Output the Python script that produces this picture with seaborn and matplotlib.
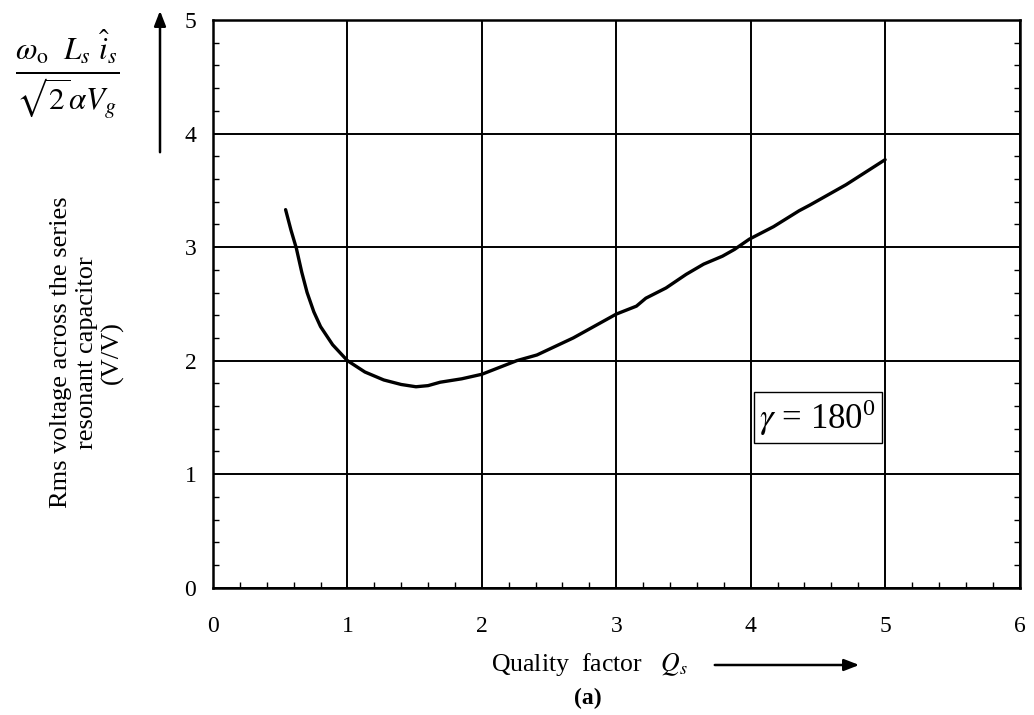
import matplotlib
matplotlib.use("Agg")
import matplotlib.pyplot as plt
import seaborn as sns
import pandas as pd
from matplotlib.ticker import MultipleLocator

# Data
quality_factor = [0.54, 0.58, 0.62, 0.66, 0.70, 0.75, 0.80, 0.89, 1.00, 1.13, 1.27, 1.40,
                  1.51, 1.60, 1.69, 1.85, 2.00, 2.26, 2.41, 2.68, 3.00, 3.15, 3.22, 3.37,
                  3.52, 3.65, 3.79, 3.88, 3.99, 4.17, 4.36, 4.44, 4.71, 5.00]
rms_voltage = [3.33, 3.15, 2.99, 2.78, 2.60, 2.43, 2.30, 2.14, 2.00, 1.90, 1.83, 1.79,
               1.77, 1.78, 1.81, 1.84, 1.88, 2.00, 2.05, 2.20, 2.41, 2.48, 2.55, 2.64,
               2.76, 2.85, 2.92, 2.98, 3.07, 3.18, 3.32, 3.37, 3.55, 3.77]
x_ticks = [0, 1, 2, 3, 4, 5, 6]
y_ticks = [0, 1, 2, 3, 4, 5]

df = pd.DataFrame({"Q": quality_factor, "V": rms_voltage})

sns.set_theme(style="white")
plt.rcParams["font.family"] = ["Liberation Serif", "DejaVu Serif"]
plt.rcParams["mathtext.fontset"] = "stix"

fig = plt.figure(figsize=(10.34, 7.15), dpi=100)
ax = fig.add_axes([0.206, 0.178, 0.780, 0.794])

sns.lineplot(data=df, x="Q", y="V", ax=ax, color="black", linewidth=2.4,
             estimator=None, sort=False)

ax.set_xlim(0, 6)
ax.set_ylim(0, 5)
ax.set_xticks(x_ticks)
ax.set_yticks(y_ticks)
ax.xaxis.set_minor_locator(MultipleLocator(0.2))
ax.yaxis.set_minor_locator(MultipleLocator(0.2))
ax.grid(True, which="major", color="black", linewidth=1.4)
ax.tick_params(axis="both", which="major", direction="in", length=0, labelsize=17,
               colors="black")
ax.tick_params(axis="x", which="major", pad=20)
ax.tick_params(axis="y", which="major", pad=12)
ax.tick_params(axis="both", which="minor", direction="in", length=4, width=1,
               color="black", bottom=True, left=True, right=True, top=False)
for s in ax.spines.values():
    s.set_visible(True)
    s.set_color("black")
    s.set_linewidth(1.8)

ax.set_xlabel(r"Quality  factor   $Q_s$", fontsize=18.5, color="black")
ax.xaxis.set_label_coords(0.467, -0.136)
ax.xaxis.label.set_va("center")

ax.set_ylabel("Rms voltage across the series\nresonant capacitor\n(V/V)",
              fontsize=19, color="black", multialignment="center", linespacing=1.2)
ax.yaxis.set_label_coords(-0.156, 0.415)
ax.yaxis.label.set_va("center")

# gamma annotation box
ax.text(4.5, 1.5, r"$\gamma$ = 180$^{\mathregular{0}}$", fontsize=25, ha="center",
        va="center", color="black",
        bbox=dict(boxstyle="square,pad=0.15", facecolor="white", edgecolor="black",
                  linewidth=1.0))

# formula at top left
fig.text(0.065, 0.895, r"$\frac{\omega_{\mathrm{o}}\ \ L_s\ \hat{i}_s}{\sqrt{2}\alpha V_g}$",
         fontsize=32, ha="center", va="center", color="black")

# arrows
fig.patches.append(matplotlib.patches.FancyArrowPatch(
    (160 / 1034, 1 - 155 / 715), (160 / 1034, 1 - 8 / 715), transform=fig.transFigure,
    arrowstyle="-|>,head_length=9,head_width=3.5", color="black", linewidth=1.8,
    mutation_scale=1))
fig.patches.append(matplotlib.patches.FancyArrowPatch(
    (712 / 1034, 1 - 665 / 715), (862 / 1034, 1 - 665 / 715), transform=fig.transFigure,
    arrowstyle="-|>,head_length=9,head_width=3.5", color="black", linewidth=1.8,
    mutation_scale=1))

fig.text(588 / 1034, 1 - 698 / 715, "(a)", fontsize=17, fontweight="bold",
         ha="center", va="center", color="black")

fig.savefig("out.png", dpi=100, facecolor="white")
